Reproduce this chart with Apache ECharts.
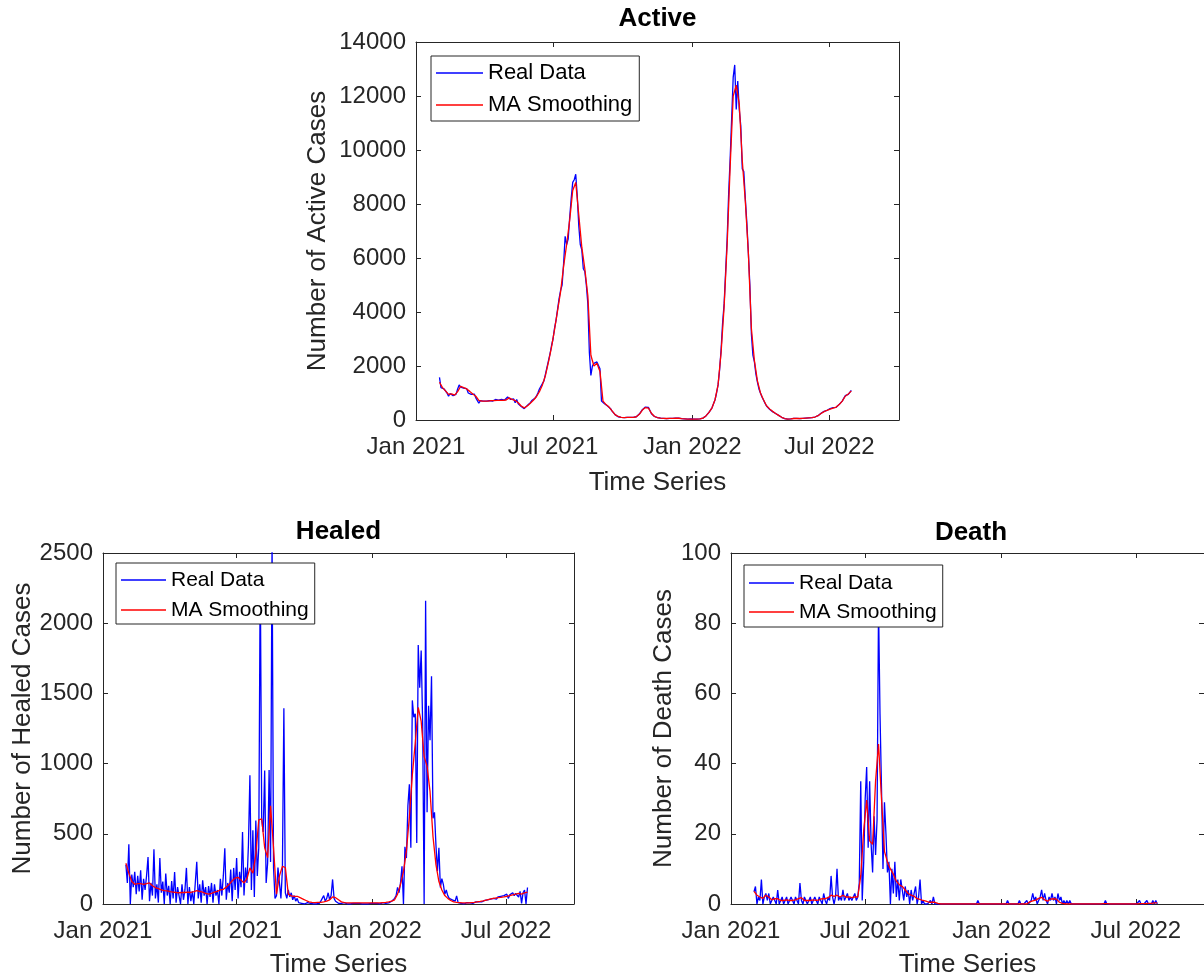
<!DOCTYPE html>
<html>
<head>
<meta charset="utf-8">
<title>Active / Healed / Death</title>
<script src="https://cdn.jsdelivr.net/npm/echarts@6.0.0/dist/echarts.min.js"></script>
<style>
  html, body { margin: 0; padding: 0; background: #fff; }
  #main { width: 1204px; height: 979px; }
</style>
</head>
<body>
<div id="main"></div>
<script>
// daily series: real data every 2 days, MA every 4 days, both from 1 Feb 2021
const DAY = 86400000;
const seriesStart = Date.UTC(2021, 1, 1);

const tickDates = [Date.UTC(2021, 0, 1), Date.UTC(2021, 6, 1), Date.UTC(2022, 0, 1), Date.UTC(2022, 6, 1)];
const tickLabels = ['Jan 2021', 'Jul 2021', 'Jan 2022', 'Jul 2022'];
const legendNames = ['Real Data', 'MA Smoothing'];

const activeReal = [
  1580,1200,1230,1150,1100,1000,880,980,1050,900,
  860,960,1150,1300,1220,1200,1180,1120,1160,1000,
  1030,950,900,960,820,780,620,720,680,700,
  720,700,690,720,740,700,730,760,710,740,
  720,760,700,740,720,850,880,760,700,780,
  640,760,600,560,500,440,420,480,540,600,
  640,720,740,800,880,1000,1150,1250,1300,1450,
  1700,1950,2200,2450,2750,3000,3400,3700,4100,4500,
  4800,5000,5800,6800,6500,6700,7500,8200,8800,8900,
  9100,8300,7200,6500,6300,5600,5500,5000,4300,2500,
  1650,2000,2100,2050,2150,2100,1900,700,650,600,
  560,520,480,420,330,260,200,150,120,110,
  100,100,90,90,100,90,100,90,100,110,
  120,150,220,300,380,440,480,460,470,350,
  230,160,130,100,90,80,70,60,60,50,
  50,60,60,50,60,70,70,60,70,60,
  50,40,40,30,30,30,40,30,30,30,
  30,30,40,50,70,100,150,200,280,350,
  450,600,750,1000,1300,1850,2600,3600,4300,5500,
  6700,8400,9700,11200,12700,13150,11500,12550,11500,10900,
  9300,9200,8200,7300,6200,5000,3200,2400,2150,1700,
  1400,1150,1000,850,740,620,520,450,400,350,
  310,280,240,200,170,130,100,70,50,40,
  30,30,40,40,60,60,60,50,50,60,
  60,70,70,70,80,90,90,100,110,130,
  160,200,250,290,320,340,360,400,420,380,
  460,480,470,500,580,620,700,800,900,920,
  950,1000,1100
];
const activeMA = [
  1400,1200,1080,950,970,920,1050,1250,1200,1150,
  1060,960,880,730,700,700,700,720,720,730,
  730,730,740,820,760,720,640,520,450,520,
  620,730,860,1050,1300,1650,2150,2700,3350,4050,
  4750,5700,6500,7400,8500,8800,7600,6400,5600,4600,
  2400,2000,2100,1800,700,570,480,340,200,130,
  100,90,95,95,100,120,210,370,460,440,
  250,130,90,70,60,55,60,60,65,65,
  50,40,30,35,30,30,40,70,150,280,
  450,750,1300,2500,4200,6500,9400,12000,12400,11700,
  9600,8100,6200,3400,2200,1450,1000,750,530,410,
  320,240,170,100,55,35,40,55,60,55,
  60,70,80,90,110,160,240,310,360,400,
  440,480,570,700,880,960,1080
];

const healedReal = [
  280,150,425,0,210,120,230,70,200,90,
  240,30,180,100,200,334,20,150,60,390,
  40,140,10,327,80,160,0,217,60,130,
  0,163,40,227,10,120,60,0,140,30,
  100,257,0,120,20,90,0,150,300,40,
  140,10,168,60,120,0,128,50,150,10,
  140,60,100,0,180,60,200,397,30,150,
  80,245,20,257,100,327,40,230,120,513,
  60,260,150,420,917,100,525,50,595,200,
  400,2400,600,513,950,150,290,955,300,2600,
  257,40,60,260,270,40,240,1394,80,40,
  100,50,80,30,60,20,40,10,20,5,
  10,0,5,10,0,5,10,0,5,0,
  10,5,20,40,60,20,40,80,30,60,
  175,40,20,10,5,0,5,0,10,5,
  0,5,0,10,5,0,5,0,5,10,
  0,5,0,5,0,10,5,0,5,0,
  5,5,0,5,10,5,5,10,8,15,
  20,25,40,60,118,80,150,268,0,408,
  327,700,852,400,1450,1330,1355,434,1844,1540,
  1805,1284,0,2159,653,1412,1167,1622,610,653,
  420,233,400,117,180,140,70,100,60,40,
  50,30,40,20,58,10,10,5,8,0,
  5,10,5,8,10,5,10,15,10,15,
  20,15,20,25,20,30,25,35,30,40,
  45,35,50,40,55,45,60,50,70,40,
  65,55,80,60,75,85,50,90,5,80,
  100,0,118
];
const healedMA = [
  290,220,160,140,145,145,140,145,150,130,
  117,110,100,95,93,88,85,82,80,82,
  82,85,82,88,95,90,85,75,70,75,
  85,90,100,105,120,140,165,185,190,170,
  150,180,257,220,350,600,607,400,330,700,
  400,70,200,268,260,70,58,55,55,45,
  35,25,15,12,10,12,12,15,20,30,
  50,45,30,15,10,8,8,8,8,8,
  8,8,8,8,8,8,8,10,12,15,
  20,30,70,140,230,380,620,920,1150,1400,
  1300,1050,980,800,480,280,160,100,60,40,
  25,15,12,10,8,8,8,10,12,15,
  18,22,28,33,38,42,45,47,50,55,
  60,65,70,75,70,80,85
];

const deathReal = [
  3.5,5,0,2,1,7,0,2,3,1,
  3,0,1,2,1,0,4,0,1,2,
  0,1,2,0,1,2,1,0,2,1,
  0,6,1,0,2,1,0,1,2,0,
  1,2,1,0,2,1,0,3,1,0,
  2,1,8,2,0,2,10,1,2,1,
  4,1,2,3,1,2,1,2,3,1,
  2,6,35,1,12,30,39,16,35,17,
  9,25,14,24,85,54,33,10,29,20,
  9,12,0,10,3,12,2,7,1,7,
  4,1,5,2,4,0,4,1,3,5,
  0,2,7,0,1,0,0,0,0,1,
  0,2,0,0,0,0,0,0,0,0,
  0,0,0,0,0,0,0,0,0,0,
  0,0,0,0,0,0,0,0,0,0,
  0,1,0,0,0,0,0,0,0,0,
  0,0,0,0,0,0,0,0,0,0,
  0,1,0,0,0,0,0,0,0,1,
  0,0,0,0,1,0,0,1,3,1,
  2,0,1,2,4,1,3,1,0,2,
  1,3,1,2,0,3,1,2,0,1,
  0,1,0,1,0,0,0,0,0,0,
  0,0,0,0,0,0,0,0,0,0,
  0,0,0,0,0,0,0,1,0,0,
  0,0,0,0,0,0,0,0,0,0,
  0,0,0,0,0,0,0,0,0,0,
  1,0,0,0,0,1,0,0,0,1,
  0,1,0
];
const deathMA = [
  3.6,2.5,2,1.6,2.5,2,1.2,1.5,1.5,1,
  1,1.2,1,1,1.2,1.5,1.8,1,1,1,
  1.2,1,1.2,1.5,1.5,1.8,2.5,2.2,2.5,2,
  2.5,2,2,1.8,2,2,8,21,29.6,18,
  17,35,45.6,30,15,12,10,8.5,6.5,5.5,
  5,4,3,2.5,2.2,1.5,1.3,1,0.8,0.5,
  0.5,0.5,0.2,0,0,0,0,0,0,0,
  0,0,0,0,0,0,0,0,0,0,
  0,0,0,0,0,0,0,0,0,0,
  0,0,0,0.6,0.9,1.1,1.6,1.9,1.2,0.8,
  1.4,1.5,1.4,0.5,0.2,0,0,0,0,0,
  0,0,0,0,0,0,0,0,0.1,0.1,
  0,0,0,0,0,0,0,0,0,0,
  0.1,0.1,0.1,0.2,0.2,0.3,0.3
];

const FONT = 'Liberation Sans, Arial, Helvetica, sans-serif';
const AXIS = '#262626';
const xMin = Date.UTC(2021, 0, 1);
const xMax = Date.UTC(2022, 9, 1);

// layout of the three axes (pixels)
const panels = [
  { title: 'Active', yName: 'Number of Active Cases', yMax: 14000, yStep: 2000,
    real: activeReal, ma: activeMA,
    grid: { left: 416, top: 42, width: 483, height: 378 },
    xGap: 50, yGap: 85, titleY: 19,
    legend: { left: 431, top: 56, font: 22, lineH: 24, gap: 8, lineW: 47, pad: [5, 7, 4, 5] } },
  { title: 'Healed', yName: 'Number of Healed Cases', yMax: 2500, yStep: 500,
    real: healedReal, ma: healedMA,
    grid: { left: 103, top: 553, width: 471, height: 357 },
    xGap: 48, yGap: 64, titleY: 532,
    legend: { left: 116, top: 563, font: 21, lineH: 22, gap: 8, lineW: 45, pad: [6, 6, 3, 5] } },
  { title: 'Death', yName: 'Number of Death Cases', yMax: 100, yStep: 20,
    real: deathReal, ma: deathMA,
    grid: { left: 731, top: 553, width: 480, height: 356 },
    xGap: 48, yGap: 50, titleY: 533,
    legend: { left: 744, top: 565, font: 21, lineH: 22, gap: 7, lineW: 45, pad: [7, 6, 4, 5] } }
];

function toPairs(values, stepDays) {
  return values.map((v, i) => [seriesStart + i * stepDays * DAY, v]);
}

function tickText(v) {
  let best = 0;
  tickDates.forEach((t, i) => { if (Math.abs(t - v) < Math.abs(tickDates[best] - v)) best = i; });
  return tickLabels[best];
}

const grids = [], xAxes = [], yAxes = [], series = [], legends = [], titles = [];

panels.forEach((p, i) => {
  grids.push(Object.assign({ containLabel: false }, p.grid));

  const lineStyle = { color: AXIS, width: 1 };
  // x is a plain value axis in ms so the four month ticks can be placed exactly
  xAxes.push({
    type: 'value', gridIndex: i, min: xMin, max: xMax, position: 'bottom',
    axisLine: { show: true, onZero: false, lineStyle },
    axisTick: { show: true, inside: true, length: 5, customValues: tickDates, lineStyle },
    axisLabel: { customValues: tickDates, formatter: tickText, fontSize: 24, color: AXIS, fontFamily: FONT, margin: 15 },
    splitLine: { show: false },
    name: 'Time Series', nameLocation: 'middle', nameGap: p.xGap,
    nameTextStyle: { fontSize: 26, color: AXIS, fontFamily: FONT }
  });
  xAxes.push({
    type: 'value', gridIndex: i, min: xMin, max: xMax, position: 'top',
    axisLine: { show: true, onZero: false, lineStyle },
    axisTick: { show: true, inside: true, length: 5, customValues: tickDates, lineStyle },
    axisLabel: { show: false },
    splitLine: { show: false }
  });
  yAxes.push({
    type: 'value', gridIndex: i, min: 0, max: p.yMax, interval: p.yStep, position: 'left',
    axisLine: { show: true, onZero: false, lineStyle },
    axisTick: { show: true, inside: true, length: 5, lineStyle },
    axisLabel: { formatter: v => String(v), fontSize: 24, color: AXIS, fontFamily: FONT, margin: 10 },
    splitLine: { show: false },
    name: p.yName, nameLocation: 'middle', nameGap: p.yGap,
    nameTextStyle: { fontSize: 26, color: AXIS, fontFamily: FONT }
  });
  yAxes.push({
    type: 'value', gridIndex: i, min: 0, max: p.yMax, interval: p.yStep, position: 'right',
    axisLine: { show: true, onZero: false, lineStyle },
    axisTick: { show: true, inside: true, length: 5, lineStyle },
    axisLabel: { show: false },
    splitLine: { show: false }
  });

  series.push({
    type: 'line', name: 'Real Data', xAxisIndex: 2 * i, yAxisIndex: 2 * i,
    data: toPairs(p.real, 2), symbol: 'none', showSymbol: false,
    lineStyle: { color: '#0000ff', width: 1.3 }, itemStyle: { color: '#0000ff' }, z: 2
  });
  series.push({
    type: 'line', name: 'MA Smoothing', xAxisIndex: 2 * i, yAxisIndex: 2 * i,
    data: toPairs(p.ma, 4), symbol: 'none', showSymbol: false,
    lineStyle: { color: '#ff0000', width: 1.3 }, itemStyle: { color: '#ff0000' }, z: 3
  });

  const lg = p.legend;
  legends.push({
    left: lg.left, top: lg.top, orient: 'vertical', data: legendNames,
    selectedMode: false, backgroundColor: '#fff', borderColor: AXIS, borderWidth: 1,
    padding: lg.pad, itemGap: lg.gap, itemWidth: lg.lineW, itemHeight: 1.3, icon: 'rect',
    textStyle: { fontSize: lg.font, color: '#000', fontFamily: FONT, lineHeight: lg.lineH }
  });

  titles.push({
    type: 'text', x: p.grid.left + p.grid.width / 2, y: p.titleY,
    style: { text: p.title, fill: '#000', font: 'bold 26px ' + FONT, textAlign: 'center', textVerticalAlign: 'middle' }
  });
});

const chart = echarts.init(document.getElementById('main'));
chart.setOption({
  backgroundColor: '#fff',
  animation: false,
  grid: grids,
  xAxis: xAxes,
  yAxis: yAxes,
  legend: legends,
  series: series,
  graphic: titles
});
</script>
</body>
</html>
